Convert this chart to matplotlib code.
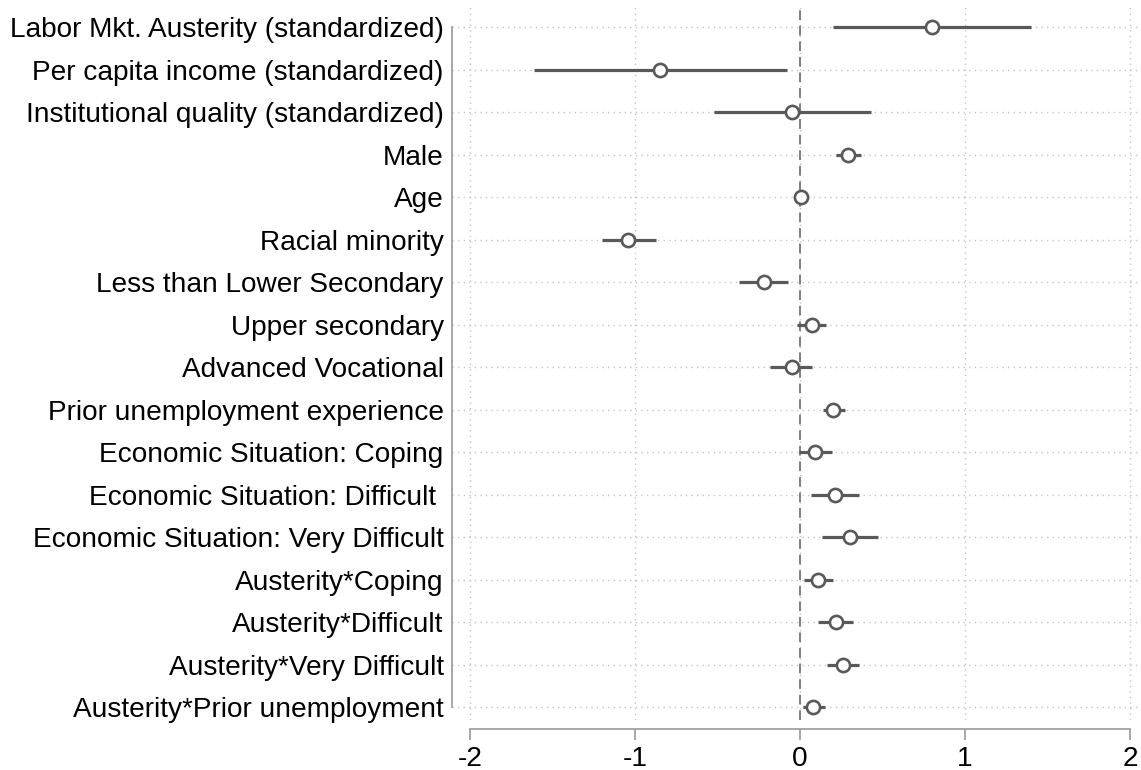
import matplotlib.pyplot as plt

labels = [
    'Labor Mkt. Austerity (standardized)',
    'Per capita income (standardized)',
    'Institutional quality (standardized)',
    'Male',
    'Age',
    'Racial minority',
    'Less than Lower Secondary',
    'Upper secondary',
    'Advanced Vocational',
    'Prior unemployment experience',
    'Economic Situation: Coping',
    'Economic Situation: Difficult ',
    'Economic Situation: Very Difficult',
    'Austerity*Coping',
    'Austerity*Difficult',
    'Austerity*Very Difficult',
    'Austerity*Prior unemployment',
]
coef = [0.80, -0.85, -0.05, 0.29, 0.005, -1.04, -0.22, 0.07, -0.05, 0.20,
        0.09, 0.21, 0.30, 0.107, 0.216, 0.26, 0.08]
ci_low = [0.198, -1.61, -0.52, 0.22, -0.005, -1.20, -0.37, -0.02, -0.18, 0.14,
          -0.005, 0.067, 0.133, 0.024, 0.109, 0.166, 0.02]
ci_high = [1.40, -0.08, 0.43, 0.37, 0.015, -0.87, -0.07, 0.16, 0.075, 0.27,
           0.196, 0.356, 0.47, 0.198, 0.32, 0.36, 0.15]
xticks = [-2, -1, 0, 1, 2]

plt.rcParams['font.family'] = ['Liberation Sans', 'DejaVu Sans']

W, H = 1141, 770
fig = plt.figure(figsize=(W / 100, H / 100), dpi=100)
ax = fig.add_axes([452 / W, 1 - 720 / H, (1138 - 452) / W, (720 - 6) / H])

ypos = list(range(len(labels)))
mark = '#595959'

# grid
for x in xticks:
    ax.axvline(x, color='#c4c4c4', lw=1, ls=(0, (1, 3)), zorder=0)
for y in ypos:
    ax.axhline(y, color='#c4c4c4', lw=1, ls=(0, (1, 3)), zorder=0)

# reference line at zero
ax.axvline(0, color='#7f7f7f', lw=1.4, ls=(0, (5, 3)), zorder=1)

# confidence intervals and point estimates
ax.hlines(ypos, ci_low, ci_high, color=mark, lw=2.3, zorder=2)
ax.plot(coef, ypos, 'o', ms=9.5, mfc='white', mec=mark, mew=1.9, ls='none', zorder=3)

ax.set_xlim(-2 - 18 / 165, 2 + 8 / 165)
ax.set_ylim(16.3, -0.5)

for s in ['top', 'right']:
    ax.spines[s].set_visible(False)
ax.spines['left'].set_bounds(0, 16)
ax.spines['left'].set_color('#a0a0a0')
ax.spines['left'].set_linewidth(1.3)
ax.spines['bottom'].set_position(('outward', 6.5))
ax.spines['bottom'].set_bounds(-2, 2)
ax.spines['bottom'].set_color('#a0a0a0')
ax.spines['bottom'].set_linewidth(1.3)

ax.set_yticks(ypos)
ax.set_yticklabels(labels)
ax.set_xticks(xticks)
ax.set_xticklabels([str(x) for x in xticks])

ax.tick_params(axis='y', length=0, pad=6, labelsize=20.2)
ax.tick_params(axis='x', length=8, width=1.3, color='#a0a0a0', pad=4, labelsize=20.2)

fig.savefig('out.png', dpi=100, facecolor='white')
